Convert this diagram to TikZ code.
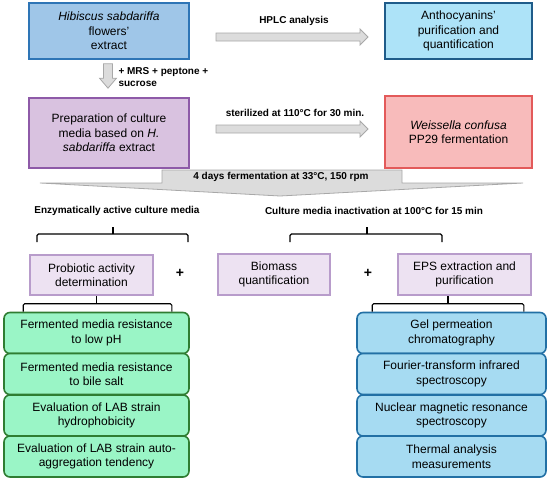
\documentclass[tikz,border=0pt]{standalone}
\usepackage{fontspec}
\setmainfont{Liberation Sans}
\usepackage{tikz}
\usetikzlibrary{calc}
\usepackage{xcolor}

\definecolor{hibfill}{HTML}{9FC6E8}
\definecolor{hibline}{HTML}{2E75B6}
\definecolor{anthfill}{HTML}{ADE3F8}
\definecolor{anthline}{HTML}{1F5C8A}
\definecolor{prepfill}{HTML}{D9C2E0}
\definecolor{prepline}{HTML}{8E5AA8}
\definecolor{weisfill}{HTML}{F8BBBB}
\definecolor{weisline}{HTML}{E35A5A}
\definecolor{lilfill}{HTML}{EDE2F2}
\definecolor{lilline}{HTML}{B89CCB}
\definecolor{grnfill}{HTML}{9AF5C6}
\definecolor{grnline}{HTML}{2F7D32}
\definecolor{blufill}{HTML}{A6DBF2}
\definecolor{bluline}{HTML}{2270A5}
\definecolor{arrfill}{HTML}{DCDCDC}
\definecolor{arrline}{HTML}{A8A8A8}

\begin{document}
\begin{tikzpicture}[x=1pt,y=-1pt,
		box/.style={draw, line width=1.6pt, align=center, inner sep=2pt,
			font=\fontsize{12}{14.5}\selectfont},
		smallbox/.style={box, line width=1.1pt, fill=lilfill, draw=lilline, minimum height=40},
		grnbox/.style={box, rounded corners=6pt, fill=grnfill, draw=grnline, minimum width=185, minimum height=41},
		blubox/.style={box, rounded corners=6pt, fill=blufill, draw=bluline, minimum width=189, minimum height=41},
		lbl/.style={font=\fontsize{10}{11.5}\selectfont\bfseries},
		graya/.style={fill=arrfill, draw=arrline, line width=0.8pt},
		bracket/.style={line width=1.1pt, rounded corners=1.5pt}]
	
	\useasboundingbox (0,0) rectangle (550,482);
	
	% first row
	\node[box, fill=hibfill, draw=hibline, minimum width=160, minimum height=56] (hib) at (109,31)
		{\textit{Hibiscus sabdariffa}\\flowers'\\extract};
	\node[box, fill=anthfill, draw=anthline, minimum width=147, minimum height=56] (anth) at (458.5,31)
		{Anthocyanins'\\purification and\\quantification};
	
	% second row
	\node[box, fill=prepfill, draw=prepline, minimum width=160, minimum height=70] (prep) at (109,133)
		{Preparation of culture\\media based on \textit{H.}\\\textit{sabdariffa} extract};
	\node[box, fill=weisfill, draw=weisline, minimum width=147, minimum height=72] (weis) at (458.5,132)
		{\textit{Weissella confusa}\\PP29 fermentation};
	
	% grey arrows
	\coordinate (hplcA) at (216,37);
	\coordinate (hplcB) at (368,37);
	\filldraw[graya] ($(hplcA)+(0,-4)$) -- ($(hplcB)+(-8,-4)$) -- ($(hplcB)+(-8,-8)$) -- (hplcB)
		-- ($(hplcB)+(-8,8)$) -- ($(hplcB)+(-8,4)$) -- ($(hplcA)+(0,4)$) -- cycle;
	\node[lbl] (hplc) at (294,21) {HPLC analysis};
	
	\coordinate (sterA) at (216,129);
	\coordinate (sterB) at (368,129);
	\filldraw[graya] ($(sterA)+(0,-4)$) -- ($(sterB)+(-8,-4)$) -- ($(sterB)+(-8,-8)$) -- (sterB)
		-- ($(sterB)+(-8,8)$) -- ($(sterB)+(-8,4)$) -- ($(sterA)+(0,4)$) -- cycle;
	\node[lbl] (ster) at (295,113) {sterilized at 110°C for 30 min.};
	
	\coordinate (mrsA) at ($(hib.south)+(-1,4)$);
	\coordinate (mrsB) at ($(prep.north)+(-1,-9)$);
	\filldraw[graya] ($(mrsA)+(-4.5,0)$) -- ($(mrsB)+(-4.5,-10)$) -- ($(mrsB)+(-8.5,-10)$) -- (mrsB)
		-- ($(mrsB)+(8.5,-10)$) -- ($(mrsB)+(4.5,-10)$) -- ($(mrsA)+(4.5,0)$) -- cycle;
	\node[lbl, anchor=west, align=left] (mrs) at (115,77) {+ MRS + peptone +\\sucrose};
	
	% fermentation banner
	\filldraw[graya] (162,170) -- (402,170) -- (402,183) -- (523,183) -- (280,196)
		-- (40,183) -- (162,183) -- cycle;
	\node[lbl] (ferm) at (281,177) {4 days fermentation at 33°C, 150 rpm};
	
	% two branches
	\node[lbl] (enz) at (117,211) {Enzymatically active culture media};
	\node[lbl] (inact) at (374,211) {Culture media inactivation at 100°C for 15 min};
	\draw[bracket] (37,242) |- (188,234) -- (188,242);
	\draw[bracket] (113,234) -- (113,227);
	\draw[bracket] (290,242) |- (442,234) -- (442,242);
	\draw[bracket] (367,234) -- (367,227);
	
	% third row
	\node[smallbox, minimum width=123] (probio) at (91.5,275) {Probiotic activity\\determination};
	\node[smallbox, minimum width=112, minimum height=41] (biom) at (274,274.5) {Biomass\\quantification};
	\node[smallbox, minimum width=133, minimum height=41] (eps) at (464.5,274.5) {EPS extraction and\\purification};
	\node[font=\fontsize{14}{14}\selectfont\bfseries] (plusA) at (180,273) {+};
	\node[font=\fontsize{14}{14}\selectfont\bfseries] (plusB) at (368,273) {+};
	
	% probiotic tests
	\node[grnbox] (fer1) at (96.5,333) {Fermented media resistance\\to low pH};
	\node[grnbox] (fer2) at (96.5,374) {Fermented media resistance\\to bile salt};
	\node[grnbox] (fer3) at (96.5,415.5) {Evaluation of LAB strain\\hydrophobicity};
	\node[grnbox] (fer4) at (96.5,456.5) {Evaluation of LAB strain auto-\\aggregation tendency};
	
	% EPS analyses
	\node[blubox] (gpc) at (451.5,333) {Gel permeation\\chromatography};
	\node[blubox] (ftir) at (451.5,374) {Fourier-transform infrared\\spectroscopy};
	\node[blubox] (nmr) at (451.5,415.5) {Nuclear magnetic resonance\\spectroscopy};
	\node[blubox] (tga) at (451.5,456.5) {Thermal analysis\\measurements};
	
	% lower brackets
	\coordinate (probT) at ($(fer1.north)+(0,-8)$);
	\coordinate (epsT) at ($(gpc.north)+(-3.5,-8)$);
	\draw[bracket] ($(fer1.north west)+(20,0)$) |- ($(fer1.north east)+(-18,-8)$) -- ($(fer1.north east)+(-18,0)$);
	\draw[bracket] (probT) -- (probT |- probio.south);
	\draw[bracket] ($(gpc.north west)+(16,0)$) |- ($(gpc.north east)+(-23,-8)$) -- ($(gpc.north east)+(-23,0)$);
	\draw[bracket] (epsT) -- (epsT |- eps.south);
	
\end{tikzpicture}
\end{document}
